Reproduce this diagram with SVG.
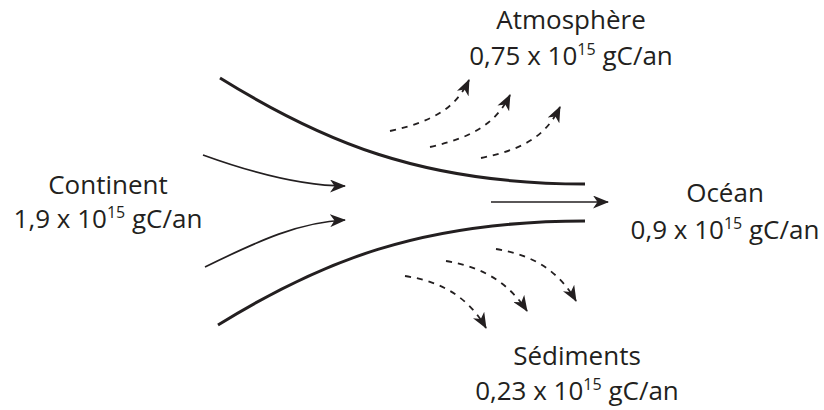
<svg xmlns="http://www.w3.org/2000/svg" width="824" height="410" viewBox="0 0 824 410">
<style>
.t{font-family:"Open Sans","Liberation Sans",sans-serif;font-size:26px;fill:#231f20;text-anchor:middle}
.s{font-size:16px}
.c{fill:none;stroke:#231f20;stroke-width:3}
.a{fill:none;stroke:#231f20;stroke-width:1.7}
.d{fill:none;stroke:#231f20;stroke-width:1.8;stroke-dasharray:6 6}
</style>
<defs>
<marker id="ah" viewBox="0 0 16 13" refX="15" refY="6.5" markerWidth="16" markerHeight="13" markerUnits="userSpaceOnUse" orient="auto">
<path d="M0,0 L16,6.5 L0,13 L4.5,6.5 Z" fill="#231f20"/>
</marker>
</defs>
<g id="connectors">
<path class="c" d="M220,78 C320,140 420,184 585,184"/>
<path class="c" d="M218,325 C320,262 420,221 585,221"/>
<path class="a" d="M203,155 C250,172 300,186 345,186" marker-end="url(#ah)"/>
<path class="a" d="M205,267 C260,240 300,222 345,220" marker-end="url(#ah)"/>
<path class="a" d="M491,202 L608,202" marker-end="url(#ah)"/>
<path class="d" d="M390,131 C430,122 455,110 469,80" marker-end="url(#ah)"/>
<path class="d" d="M430,147 C470,138 495,125 510,95" marker-end="url(#ah)"/>
<path class="d" d="M481,158 C520,150 545,138 560,107" marker-end="url(#ah)"/>
<path class="d" d="M405,276 C445,282 470,300 486,328" marker-end="url(#ah)"/>
<path class="d" d="M446,261 C485,267 510,285 527,311" marker-end="url(#ah)"/>
<path class="d" d="M496,249 C535,255 560,273 576,301" marker-end="url(#ah)"/>
</g>
<g id="atmosphere">
<text class="t" x="571" y="29">Atmosphère</text>
<text class="t" x="571" y="65">0,75 x 10<tspan class="s" dy="-10">15</tspan><tspan dy="10"> gC/an</tspan></text>
</g>
<g id="continent">
<text class="t" x="108" y="194">Continent</text>
<text class="t" x="108" y="228">1,9 x 10<tspan class="s" dy="-10">15</tspan><tspan dy="10"> gC/an</tspan></text>
</g>
<g id="ocean">
<text class="t" x="725" y="202">Océan</text>
<text class="t" x="725" y="239">0,9 x 10<tspan class="s" dy="-10">15</tspan><tspan dy="10"> gC/an</tspan></text>
</g>
<g id="sediments">
<text class="t" x="577" y="365">Sédiments</text>
<text class="t" x="577" y="400">0,23 x 10<tspan class="s" dy="-10">15</tspan><tspan dy="10"> gC/an</tspan></text>
</g>
</svg>
